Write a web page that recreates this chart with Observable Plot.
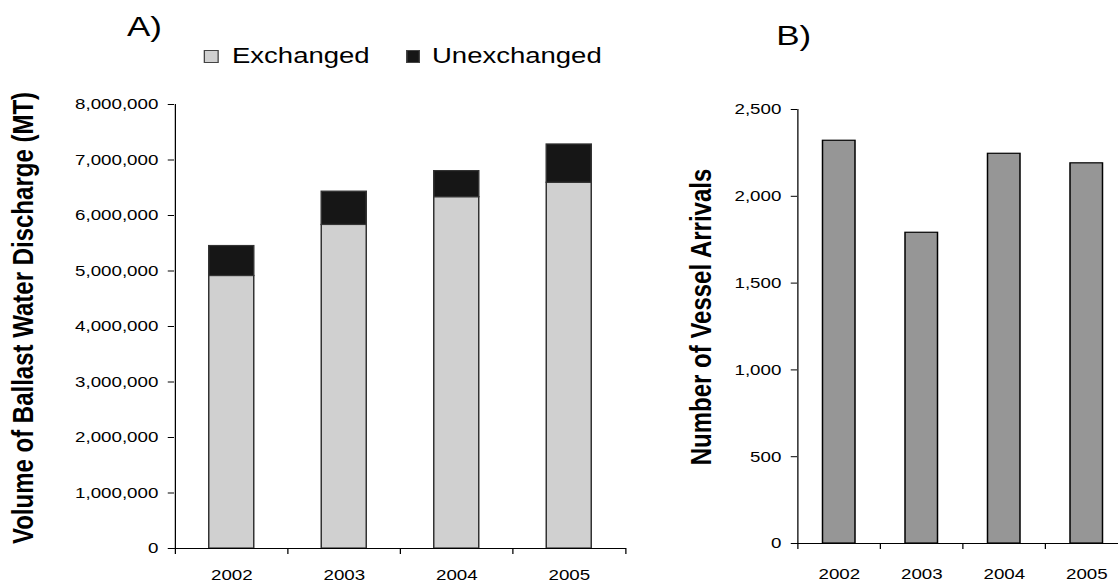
<!DOCTYPE html>
<html><head><meta charset="utf-8">
<script src="https://cdn.jsdelivr.net/npm/d3@7"></script>
<script src="https://cdn.jsdelivr.net/npm/@observablehq/plot@0.6"></script>
<style>
html,body{margin:0;padding:0;background:#fff;overflow:hidden;width:1118px;height:584px;}
#wrap{position:absolute;left:0;top:0;width:894.4px;height:584px;transform:scaleX(1.25);transform-origin:0 0;font-family:"Liberation Sans",Arial,sans-serif;color:#000;}
.abs{position:absolute;white-space:nowrap;}
.ytitle{position:absolute;white-space:nowrap;font-weight:bold;font-size:24px;line-height:24px;transform:translate(-50%,-50%) rotate(-90deg);}
.sw{position:absolute;box-sizing:border-box;border:1px solid #444;}
#wrap svg{position:absolute;max-width:none;}
</style></head><body><div id="wrap"></div>
<script>
// ---- data ----
const years = ["2002", "2003", "2004", "2005"];
const exchanged = [4910000, 5830000, 6330000, 6590000];
const unexchanged = [540000, 600000, 470000, 690000];
const arrivals = [2320, 1790, 2245, 2190];
const volumeTicks = [0, 1000000, 2000000, 3000000, 4000000, 5000000, 6000000, 7000000, 8000000];
const arrivalTicks = [0, 500, 1000, 1500, 2000, 2500];
const seriesNames = ["Exchanged", "Unexchanged"];
const seriesColors = ["#d0d0d0", "#161616"];
const titleA = "Volume of Ballast Water Discharge (MT)";
const titleB = "Number of Vessel Arrivals";

const wrap = document.getElementById("wrap");
const font = {fontFamily: "'Liberation Sans', Arial, sans-serif", fontSize: "15px", color: "#000", background: "transparent", overflow: "visible"};
const fmt = d3.format(",");

// ---- Panel A ----
const A = {width: 520, height: 504, ml: 139.2, mr: 19.2, mt: 24, mb: 36};
const stepA = (A.width - A.ml - A.mr) / years.length;
const volRows = years.flatMap((y, i) => [
  {year: y, type: seriesNames[0], value: exchanged[i]},
  {year: y, type: seriesNames[1], value: unexchanged[i]}
]);
const plotA = Plot.plot({
  width: A.width, height: A.height,
  marginLeft: A.ml, marginRight: A.mr, marginTop: A.mt, marginBottom: A.mb,
  style: font,
  x: {domain: years, paddingInner: 0.6, paddingOuter: 0.3, label: null},
  y: {domain: [0, d3.max(volumeTicks)], label: null},
  color: {domain: seriesNames, range: seriesColors},
  marks: [
    Plot.barY(volRows, {x: "year", y: "value", fill: "type", stroke: "#333", strokeWidth: 1.2}),
    Plot.axisY({ticks: volumeTicks, tickFormat: fmt, tickSize: 5, tickPadding: 8, label: null}),
    Plot.axisX({tickSize: 0, tickPadding: 21, label: null}),
    Plot.ruleY([0], {stroke: "#000"}),
    Plot.ruleX([years[0]], {x: d => d, y1: 0, y2: d3.max(volumeTicks), dx: -stepA / 2, stroke: "#000"}),
    Plot.ruleX(years, {x: d => d, y1: 0, y2: 0, dx: -stepA / 2, insetBottom: -6, stroke: "#000"}),
    Plot.ruleX([years[years.length - 1]], {x: d => d, y1: 0, y2: 0, dx: stepA / 2, insetBottom: -6, stroke: "#000"})
  ]
});
plotA.style.left = "0px"; plotA.style.top = "80px";
wrap.appendChild(plotA);

// ---- Panel B ----
const B = {left: 520, width: 395, height: 504, ml: 117.6, mr: 11.8, mt: 29, mb: 41};
const stepB = (B.width - B.ml - B.mr) / years.length;
const arrRows = years.map((y, i) => ({year: y, value: arrivals[i]}));
const plotB = Plot.plot({
  width: B.width, height: B.height,
  marginLeft: B.ml, marginRight: B.mr, marginTop: B.mt, marginBottom: B.mb,
  style: font,
  x: {domain: years, paddingInner: 0.6, paddingOuter: 0.3, label: null},
  y: {domain: [0, d3.max(arrivalTicks)], label: null},
  marks: [
    Plot.barY(arrRows, {x: "year", y: "value", fill: "#969696", stroke: "#000", strokeWidth: 1.2}),
    Plot.axisY({ticks: arrivalTicks, tickFormat: fmt, tickSize: 5, tickPadding: 8, label: null}),
    Plot.axisX({tickSize: 0, tickPadding: 25, label: null}),
    Plot.ruleY([0], {stroke: "#000"}),
    Plot.ruleX([years[0]], {x: d => d, y1: 0, y2: d3.max(arrivalTicks), dx: -stepB / 2, stroke: "#000"}),
    Plot.ruleX(years, {x: d => d, y1: 0, y2: 0, dx: -stepB / 2, insetBottom: -6, stroke: "#000"}),
    Plot.ruleX([years[years.length - 1]], {x: d => d, y1: 0, y2: 0, dx: stepB / 2, insetBottom: -6, stroke: "#000"})
  ]
});
plotB.style.left = B.left + "px"; plotB.style.top = "80px";
wrap.appendChild(plotB);

// ---- HTML text: panel letters, legend, axis titles ----
function addText(txt, left, top, size, extra) {
  const d = document.createElement("div");
  d.className = "abs";
  d.textContent = txt;
  d.style.left = left + "px"; d.style.top = top + "px";
  d.style.fontSize = size + "px"; d.style.lineHeight = size + "px";
  if (extra) Object.assign(d.style, extra);
  wrap.appendChild(d);
  return d;
}
addText("A)", 101.6, 13, 28);
addText("B)", 621, 22, 28);

const legendPos = [{sw: 163, tx: 185.6}, {sw: 324.8, tx: 345.6}];
seriesNames.forEach((name, i) => {
  const s = document.createElement("div");
  s.className = "sw";
  s.style.left = legendPos[i].sw + "px"; s.style.top = "50px";
  s.style.width = "11.5px"; s.style.height = "13px";
  s.style.background = seriesColors[i];
  wrap.appendChild(s);
  addText(name, legendPos[i].tx, 45, 22);
});

function addYTitle(txt, cx, cy) {
  const d = document.createElement("div");
  d.className = "ytitle";
  d.textContent = txt;
  d.style.left = cx + "px"; d.style.top = cy + "px";
  wrap.appendChild(d);
}
addYTitle(titleA, 18.4, 318);
addYTitle(titleB, 560.8, 317);
</script>
</body></html>
